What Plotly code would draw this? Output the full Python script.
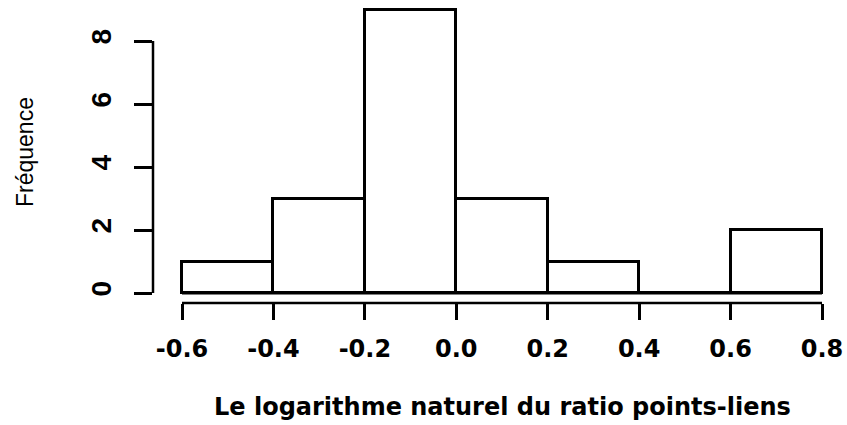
import plotly.graph_objects as go

# Data: histogram bins and counts
bin_edges = [-0.6, -0.4, -0.2, 0.0, 0.2, 0.4, 0.6, 0.8]
counts = [1, 3, 9, 3, 1, 0, 2]
x_tickvals = [-0.6, -0.4, -0.2, 0.0, 0.2, 0.4, 0.6, 0.8]
x_ticktext = ["-0.6", "-0.4", "-0.2", "0.0", "0.2", "0.4", "0.6", "0.8"]
y_tickvals = [0, 2, 4, 6, 8]
y_ticktext = ["0", "2", "4", "6", "8"]

centers = [(a + b) / 2 for a, b in zip(bin_edges[:-1], bin_edges[1:])]
widths = [b - a for a, b in zip(bin_edges[:-1], bin_edges[1:])]

FONT = "Liberation Sans, Arial, Helvetica, sans-serif"
WIDE = "DejaVu Sans, Liberation Sans, sans-serif"

XR = [-0.66344, 0.8503]
YR = [-0.3175, 9.1429]

fig = go.Figure()
fig.add_trace(go.Bar(
    x=centers, y=counts, width=widths, base=0,
    marker=dict(color="white", line=dict(color="black", width=3)),
    hoverinfo="skip", showlegend=False,
))

# baseline under empty bins (R draws zero-height rectangles)
fig.add_trace(go.Scatter(
    x=[bin_edges[0], bin_edges[-1]], y=[0, 0], mode="lines",
    line=dict(color="black", width=3), hoverinfo="skip", showlegend=False,
))

fig.update_layout(
    width=847, height=425,
    margin=dict(l=153, r=2, t=5, b=122),
    paper_bgcolor="white", plot_bgcolor="white",
    bargap=0,
    xaxis=dict(
        range=XR, showgrid=False, zeroline=False, showline=False,
        tickmode="array", tickvals=x_tickvals, ticktext=x_ticktext,
        ticks="outside", ticklen=16, tickwidth=2.5, tickcolor="black",
        tickfont=dict(family=WIDE, size=24, color="black", weight="bold"),
        ticklabelstandoff=8,
    ),
    yaxis=dict(
        range=YR, showgrid=False, zeroline=False, showline=False,
        tickmode="array", tickvals=y_tickvals, ticktext=y_ticktext,
        ticks="outside", ticklen=18, tickwidth=2.5, tickcolor="black",
        tickangle=-90,
        tickfont=dict(family=FONT, size=28, color="black", weight="bold"),
        ticklabelstandoff=12,
    ),
    shapes=[
        dict(type="line", xref="x", yref="paper", x0=x_tickvals[0], x1=x_tickvals[-1],
             y0=0, y1=0, line=dict(color="black", width=2.5)),
        dict(type="line", xref="paper", yref="y", x0=0, x1=0,
             y0=y_tickvals[0], y1=y_tickvals[-1], line=dict(color="black", width=2.5)),
    ],
    annotations=[
        dict(text="Le logarithme naturel du ratio points-liens", xref="paper", yref="paper",
             x=(0.1 - XR[0]) / (XR[1] - XR[0]),
             y=-104 / 298, xanchor="center", yanchor="middle", showarrow=False,
             font=dict(family=WIDE, size=24, color="black", weight="bold")),
        dict(text="Fréquence", xref="paper", yref="paper",
             x=-128 / 692, y=(303 - 152) / 298, xanchor="center", yanchor="middle",
             textangle=-90, showarrow=False,
             font=dict(family=FONT, size=23, color="black")),
    ],
)

fig.write_html("out.html")
